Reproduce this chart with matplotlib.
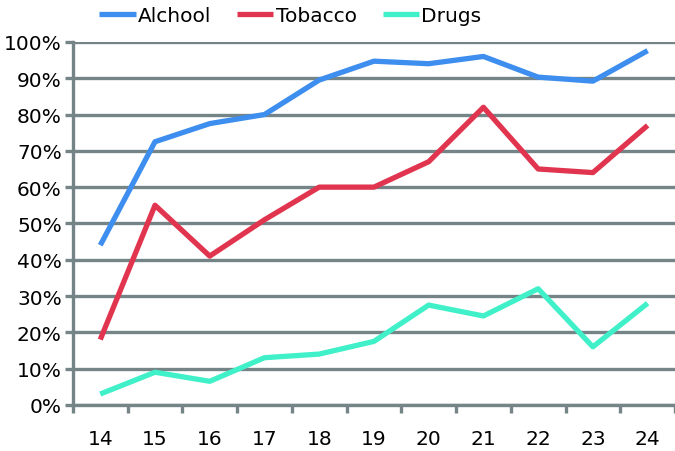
import matplotlib.pyplot as plt
import numpy as np

ages = ["14", "15", "16", "17", "18", "19", "20", "21", "22", "23", "24"]
alchool = [44, 72.5, 77.5, 80, 89.5, 94.7, 94, 96, 90.3, 89.2, 97.6]
tobacco = [18, 55, 41, 51, 60, 60, 67, 82, 65, 64, 77]
drugs = [3, 9, 6.5, 13, 14, 17.5, 27.5, 24.5, 32, 16, 28]

grid_color = "#748487"

fig = plt.figure(figsize=(6.75, 4.52), dpi=100)
ax = fig.add_axes([0.108, 0.102, 0.892, 0.803])

x = np.arange(len(ages))
ax.plot(x, alchool, color="#3d8eef", lw=3.8, label="Alchool", solid_capstyle="butt")
ax.plot(x, tobacco, color="#e1344f", lw=3.8, label="Tobacco", solid_capstyle="butt")
ax.plot(x, drugs, color="#40f0c9", lw=3.8, label="Drugs", solid_capstyle="butt")

ax.set_xlim(-0.5, len(ages) - 0.5)
ax.set_ylim(0, 100)
ax.set_yticks(np.arange(0, 101, 10))
ax.set_yticklabels([f"{v}%" for v in range(0, 101, 10)], fontsize=14.5)
ax.set_xticks(x)
ax.set_xticklabels(ages, fontsize=14.5)
ax.set_xticks(np.arange(-0.5, len(ages), 1), minor=True)

ax.grid(axis="y", color=grid_color, lw=2.4)
ax.set_axisbelow(True)
ax.tick_params(axis="x", which="major", length=0, pad=17)
ax.tick_params(axis="x", which="minor", length=6, width=2.4, color=grid_color)
ax.tick_params(axis="y", length=6, width=2.4, color=grid_color, pad=2)

for s in ["top", "right"]:
    ax.spines[s].set_visible(False)
for s in ["left", "bottom"]:
    ax.spines[s].set_color(grid_color)
    ax.spines[s].set_linewidth(2.4)

fig.legend(loc="upper center", bbox_to_anchor=(0.43, 1.025), ncol=3, frameon=False,
           fontsize=14.5, handlelength=1.8, handletextpad=0.1, columnspacing=1.3)

fig.savefig("out.png", dpi=100)
